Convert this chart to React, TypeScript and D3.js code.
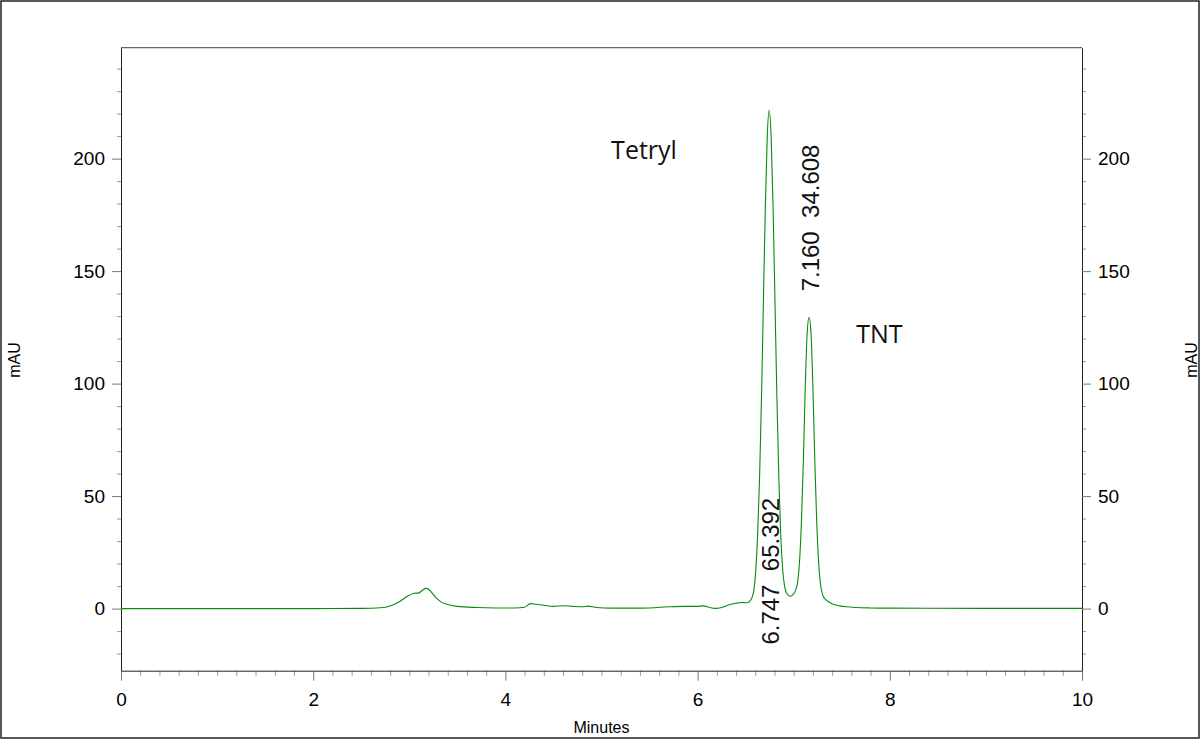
import React, { useEffect, useRef } from 'react';
import * as d3 from 'd3';

// chromatogram trace (minutes, mAU)
const times = [
  0, 0.5, 1.0, 1.5, 2.0, 2.5, 2.7, 2.8, 2.9, 2.98, 3.05, 3.1, 3.14, 3.18, 3.22, 3.27, 3.33, 3.4, 3.5, 3.7,
  3.9, 4.1, 4.2, 4.26, 4.32, 4.4, 4.5, 4.6, 4.7, 4.8, 4.86, 4.95, 5.1, 5.3, 5.5, 5.7, 5.85, 6.0, 6.06, 6.12,
  6.18, 6.25, 6.32, 6.4, 6.46, 6.5, 6.525, 6.545, 6.565, 6.585, 6.605, 6.625, 6.645, 6.665, 6.685, 6.705,
  6.725, 6.745, 6.765, 6.785, 6.805, 6.825, 6.845, 6.865, 6.885, 6.905, 6.925, 6.945, 6.965, 6.985,
  7.0, 7.02, 7.04, 7.06, 7.08, 7.1, 7.12, 7.14, 7.16, 7.18, 7.2, 7.22, 7.24, 7.26, 7.28, 7.3, 7.32, 7.34,
  7.38, 7.42, 7.48, 7.55, 7.65, 7.8, 8.0, 9.0, 10.0,
];
const mau = [
  0, 0, 0, 0, 0, 0.1, 0.4, 1.2, 3.2, 5.5, 6.8, 7.0, 8.3, 9.0, 7.8, 5.2, 3.0, 1.8, 1.0, 0.5,
  0.3, 0.3, 0.6, 2.2, 1.9, 1.5, 1.0, 1.3, 1.0, 0.8, 1.1, 0.5, 0.2, 0.2, 0.3, 0.8, 1.0, 1.0, 1.2, 0.6,
  0.1, 0.5, 1.6, 2.4, 2.7, 2.6, 2.7, 3.4, 4.8, 8.0, 17, 33, 58.5, 94, 137, 179,
  210, 221.5, 210, 179, 137, 94, 58.5, 33, 17.5, 10, 7.0, 5.9, 5.5, 5.9,
  6.6, 8.2, 11.5, 20.5, 38, 65, 98, 122.5, 129.5, 122.5, 98, 65, 38, 20, 10.5, 6.3, 4.6, 3.8,
  2.6, 1.8, 1.2, 0.8, 0.5, 0.3, 0.2, 0.1, 0.1,
];

const yMajor = [0, 50, 100, 150, 200];
const yMinor = [-20, -10, 10, 20, 30, 40, 60, 70, 80, 90, 110, 120, 130, 140, 160, 170, 180, 190, 210, 220, 230, 240];
const xMajor = [0, 2, 4, 6, 8, 10];

const peakNames = [
  { name: 'Tetryl', t: 5.1, v: 200 },
  { name: 'TNT', t: 7.65, v: 118 },
];
const peakLabels = [
  { text: '6.747  65.392', t: 6.747, v: -16 },
  { text: '7.160  34.608', t: 7.16, v: 141 },
];

const W = 1201;
const H = 740;
const FONT = '"Liberation Sans", Arial, sans-serif';

const Chromatogram = () => {
  const svgRef = useRef<SVGSVGElement>(null);

  useEffect(() => {
    const svg = d3.select(svgRef.current);
    svg.selectAll('*').remove();

    const left = 121, right = 1082, top = 47.7, bottom = 670.7;
    const x = d3.scaleLinear().domain([0, 10]).range([left, right]);
    const y = d3.scaleLinear().domain([-27.6, 249.3]).range([bottom, top]);

    svg.append('rect')
      .attr('x', 1).attr('y', 1).attr('width', W - 3).attr('height', H - 3)
      .attr('fill', 'white').attr('stroke', '#222').attr('stroke-width', 1.5);

    // top border of plot
    svg.append('line')
      .attr('x1', left).attr('x2', right).attr('y1', top).attr('y2', top)
      .attr('stroke', '#666').attr('stroke-width', 1.2);

    const minorAxis = (g, axis) => {
      g.call(axis);
      g.select('.domain').remove();
      g.selectAll('text').remove();
      g.selectAll('line').attr('stroke', '#999');
    };
    const majorAxis = (g, axis) => {
      g.call(axis);
      g.select('.domain').attr('stroke', '#222');
      g.selectAll('line').attr('stroke', '#777');
      g.selectAll('text').attr('font-size', 19).attr('font-family', FONT).attr('fill', '#000');
    };

    const xMinor = d3.range(0, 50).map(i => i * 0.2).filter(v => Math.abs(v / 2 - Math.round(v / 2)) > 1e-6);
    svg.append('g').attr('transform', `translate(0,${bottom})`)
      .call(g => minorAxis(g, d3.axisBottom(x).tickValues(xMinor).tickSize(5)));
    svg.append('g').attr('transform', `translate(0,${bottom})`)
      .call(g => majorAxis(g, d3.axisBottom(x).tickValues(xMajor).tickSize(10).tickPadding(12).tickSizeOuter(0).tickFormat(d3.format('d'))));

    svg.append('g').attr('transform', `translate(${left},0)`)
      .call(g => minorAxis(g, d3.axisLeft(y).tickValues(yMinor).tickSize(4)));
    svg.append('g').attr('transform', `translate(${left},0)`)
      .call(g => majorAxis(g, d3.axisLeft(y).tickValues(yMajor).tickSize(9).tickPadding(7).tickSizeOuter(0)));

    svg.append('g').attr('transform', `translate(${right},0)`)
      .call(g => minorAxis(g, d3.axisRight(y).tickValues(yMinor).tickSize(4)));
    svg.append('g').attr('transform', `translate(${right},0)`)
      .call(g => majorAxis(g, d3.axisRight(y).tickValues(yMajor).tickSize(9).tickPadding(7).tickSizeOuter(0)));

    // trace
    const line = d3.line<number>()
      .x((_, i) => x(times[i]))
      .y(d => y(d))
      .curve(d3.curveMonotoneX);
    svg.append('path')
      .datum(mau)
      .attr('d', line)
      .attr('fill', 'none')
      .attr('stroke', '#0a8a0a')
      .attr('stroke-width', 1.1);

    // axis titles
    svg.append('text')
      .attr('x', (left + right) / 2).attr('y', 733)
      .attr('text-anchor', 'middle')
      .attr('font-family', FONT).attr('font-size', 16)
      .text('Minutes');
    [14, 1191].forEach(cx => {
      svg.append('text')
        .attr('transform', `translate(${cx + 6},360) rotate(-90)`)
        .attr('text-anchor', 'middle')
        .attr('font-family', FONT).attr('font-size', 16)
        .text('mAU');
    });

    // peak names
    svg.selectAll('.pname')
      .data(peakNames)
      .enter().append('text')
      .attr('x', d => x(d.t)).attr('y', d => y(d.v))
      .attr('font-family', '"Open Sans", sans-serif').attr('font-size', 25)
      .attr('fill', '#111')
      .text(d => d.name);

    // retention time / area labels
    svg.selectAll('.plabel')
      .data(peakLabels)
      .enter().append('text')
      .attr('transform', d => `translate(${x(d.t) + 10},${y(d.v)}) rotate(-90)`)
      .attr('font-family', FONT).attr('font-size', 24)
      .attr('fill', '#111')
      .style('white-space', 'pre')
      .text(d => d.text);
  }, []);

  return <svg ref={svgRef} width={W} height={H} style={{ position: 'absolute', left: 0, top: 0, display: 'block' }} />;
};

export default function App() {
  return <Chromatogram />;
}
